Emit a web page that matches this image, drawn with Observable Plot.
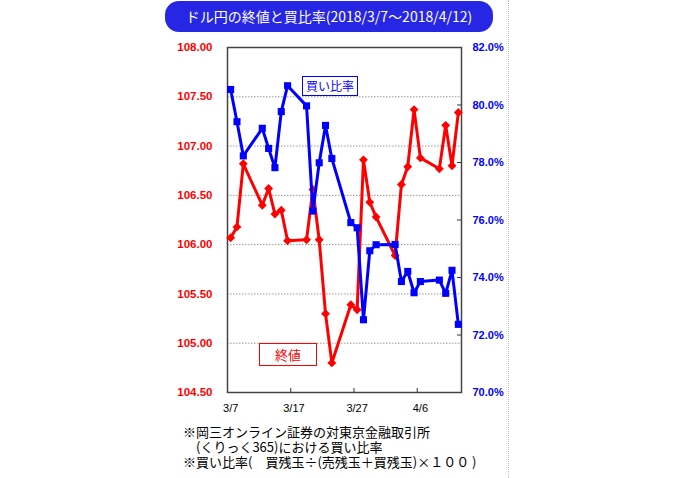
<!DOCTYPE html>
<html><head><meta charset="utf-8">
<script src="https://cdn.jsdelivr.net/npm/d3@7"></script>
<script src="https://cdn.jsdelivr.net/npm/@observablehq/plot@0.6"></script>
<style>
body{margin:0;background:#fff;}
#wrap{position:relative;width:700px;height:478px;overflow:hidden;font-family:"Noto Sans CJK JP",sans-serif;}
#chart{position:absolute;left:0;top:0;}
#title{position:absolute;left:165px;top:1px;width:328px;height:31px;border-radius:14px;background:#2626e4;color:#fff;font-size:14px;line-height:31px;text-align:center;white-space:nowrap;}
.leg{position:absolute;background:#fff;text-align:center;box-sizing:border-box;white-space:nowrap;}
#legBuy{left:302px;top:76px;width:56px;height:20px;border:1px solid #0000ff;color:#0000ff;font-size:12px;line-height:18px;}
#legClose{left:259px;top:343px;width:58px;height:23px;border:1px solid #ff0000;color:#ff0000;font-size:13px;line-height:21px;}
#notes{position:absolute;left:183px;top:424px;font-size:13px;line-height:15px;color:#000;white-space:pre;}
#vline{position:absolute;left:508px;top:0;height:478px;border-left:1px dotted #bbb;}
</style></head><body>
<div id="wrap">
<div id="chart"></div>
<div id="title"></div>
<div id="vline"></div>
<div id="notes"></div>
</div>
<script>
const dates = ["2018-03-07","2018-03-08","2018-03-09","2018-03-12","2018-03-13","2018-03-14","2018-03-15","2018-03-16",
  "2018-03-19","2018-03-20","2018-03-21","2018-03-22","2018-03-23","2018-03-26","2018-03-27","2018-03-28","2018-03-29","2018-03-30",
  "2018-04-02","2018-04-03","2018-04-04","2018-04-05","2018-04-06","2018-04-09","2018-04-10","2018-04-11","2018-04-12"];
const closePrice = [106.07,106.18,106.82,106.40,106.57,106.31,106.35,106.04,
  106.05,106.56,106.05,105.30,104.80,105.39,105.34,106.86,106.43,106.28,
  105.89,106.61,106.79,107.37,106.88,106.77,107.21,106.80,107.34];
const buyRatio = [80.54,79.42,78.23,79.19,78.49,77.82,79.77,80.67,
  79.97,76.31,77.99,79.29,78.14,75.91,75.73,72.53,74.93,75.14,
  75.15,73.86,74.21,73.47,73.86,73.91,73.45,74.25,72.37];
const leftTicks = [104.5,105.0,105.5,106.0,106.5,107.0,107.5,108.0];
const rightTicks = [70,72,74,76,78,80,82];
const xTickDates = ["2018-03-07","2018-03-17","2018-03-27","2018-04-06"];
const xDomain = ["2018-03-07","2018-04-13"];
const legendBuy = "買い比率";
const legendClose = "終値";
const titleText = "ドル円の終値と買比率(2018/3/7〜2018/4/12)";
const notes = ["※岡三オンライン証券の対東京金融取引所","　(くりっく365)における買い比率","※買い比率(　買残玉÷(売残玉＋買残玉)×１００ )"];

const L0 = 104.5, L1 = 108, R0 = 70, R1 = 82;
const toLeft = v => L0 + (v - R0) * (L1 - L0) / (R1 - R0);
const fromLeft = v => R0 + (v - L0) * (R1 - R0) / (L1 - L0);
const noon = s => new Date(s + "T12:00:00Z");
const day = s => new Date(s + "T00:00:00Z");

const data = dates.map((d, i) => ({date: noon(d), close: closePrice[i], ratio: toLeft(buyRatio[i])}));

const W = 700, H = 478, mL = 227, mR = 239, mT = 47, mB = 86;
const innerW = W - mL - mR, innerH = H - mT - mB;
const font = "Liberation Sans, Arial, sans-serif";

const chart = Plot.plot({
  width: W, height: H,
  marginLeft: mL, marginRight: mR, marginTop: mT, marginBottom: mB,
  style: {background: "transparent", fontFamily: font},
  x: {type: "utc", domain: xDomain.map(day)},
  y: {domain: [L0, L1]},
  marks: [
    Plot.ruleY(leftTicks.slice(1, -1), {stroke: "#999", strokeDasharray: "1.5,1.5", strokeWidth: 1}),
    Plot.frame({stroke: "#444", strokeWidth: 1.5}),
    Plot.axisY(leftTicks, {anchor: "left", tickSize: 0, tickPadding: 15, tickFormat: d => d.toFixed(2), fill: "#ff0000", fontWeight: "bold", fontSize: 11.5, fontFamily: font}),
    Plot.axisY(rightTicks.map(toLeft), {anchor: "right", tickSize: 0, tickPadding: 11, tickFormat: v => fromLeft(v).toFixed(1) + "%", fill: "#0000ff", fontWeight: "bold", fontSize: 11, fontFamily: font}),
    Plot.tickY(rightTicks.slice(1, -1).map(toLeft), {y: d => d, insetLeft: innerW - 4, stroke: "#333", strokeWidth: 1}),
    Plot.tickX(xTickDates.slice(1).map(day), {x: d => d, insetTop: innerH - 4, stroke: "#333", strokeWidth: 1}),
    Plot.axisX(xTickDates.map(noon), {tickSize: 0, tickPadding: 12, tickFormat: d => `${d.getUTCMonth() + 1}/${d.getUTCDate()}`, fill: "#000", fontSize: 11, fontFamily: font, letterSpacing: "2px"}),
    Plot.line(data, {x: "date", y: "close", stroke: "#ff0000", strokeWidth: 3}),
    Plot.dot(data, {x: "date", y: "close", symbol: "diamond2", r: 4, fill: "#ff0000", stroke: "none"}),
    Plot.line(data, {x: "date", y: "ratio", stroke: "#0000ff", strokeWidth: 3}),
    Plot.dot(data, {x: "date", y: "ratio", symbol: "square", r: 4, fill: "#0000ff", stroke: "none"})
  ]
});
document.getElementById("chart").appendChild(chart);

const wrap = document.getElementById("wrap");
const lb = document.createElement("div"); lb.className = "leg"; lb.id = "legBuy"; lb.textContent = legendBuy; wrap.appendChild(lb);
const lc = document.createElement("div"); lc.className = "leg"; lc.id = "legClose"; lc.textContent = legendClose; wrap.appendChild(lc);
document.getElementById("title").textContent = titleText;
document.getElementById("notes").textContent = notes.join("\n");
</script>
</body></html>
